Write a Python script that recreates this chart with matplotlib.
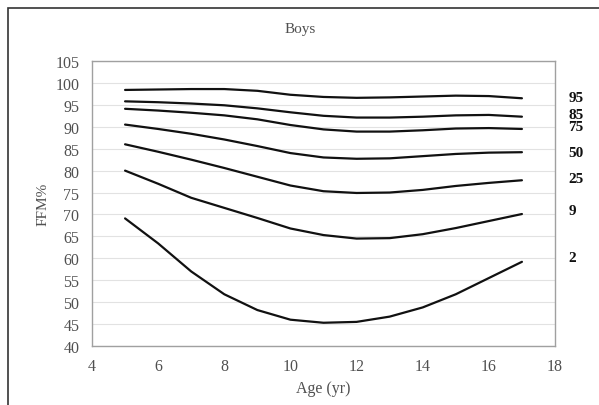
import matplotlib.pyplot as plt
from matplotlib.patches import Rectangle

plt.rcParams['font.family'] = ['Liberation Serif', 'DejaVu Serif']

# ages and percentile curves (FFM%)
ages = [5, 6, 7, 8, 9, 10, 11, 12, 13, 14, 15, 16, 17]
p95 = [98.4, 98.5, 98.6, 98.6, 98.2, 97.3, 96.8, 96.6, 96.7, 96.9, 97.1, 97.0, 96.5]
p85 = [95.8, 95.6, 95.3, 94.9, 94.2, 93.3, 92.5, 92.1, 92.1, 92.3, 92.6, 92.7, 92.3]
p75 = [94.1, 93.7, 93.2, 92.6, 91.7, 90.4, 89.4, 88.9, 88.9, 89.2, 89.6, 89.7, 89.5]
p50 = [90.5, 89.5, 88.4, 87.1, 85.6, 84.0, 83.0, 82.7, 82.8, 83.3, 83.8, 84.1, 84.2]
p25 = [86.0, 84.3, 82.5, 80.6, 78.6, 76.6, 75.3, 74.9, 75.0, 75.6, 76.5, 77.2, 77.8]
p9 = [80.0, 77.0, 73.8, 71.5, 69.2, 66.8, 65.3, 64.5, 64.6, 65.5, 66.9, 68.5, 70.1]
p2 = [69.1, 63.4, 57.0, 51.8, 48.2, 46.0, 45.3, 45.5, 46.7, 48.8, 51.8, 55.5, 59.2]

curves = [p95, p85, p75, p50, p25, p9, p2]
labels = ["95", "85", "75", "50", "25", "9", "2"]
label_y = [96.6, 92.9, 90.0, 84.2, 78.3, 71.0, 60.1]

fig = plt.figure(figsize=(5.99, 4.06), dpi=100)
W, H = 599, 406
ax = fig.add_axes([92 / W, 1 - 347 / H, (555 - 92) / W, (347 - 62) / H])

for c in curves:
    ax.plot(ages, c, color='#111111', lw=1.6, solid_capstyle='round')

for lab, y in zip(labels, label_y):
    ax.text(18.4, y, lab, fontsize=11, fontweight='bold', va='center',
            ha='left', color='#111111', clip_on=False)

ax.set_xlim(4, 18)
ax.set_ylim(40, 105)
ax.set_xticks(range(4, 19, 2))
ax.set_yticks(range(40, 106, 5))
ax.grid(axis='y', color='#e2e2e2', lw=0.8)
ax.set_axisbelow(True)
ax.tick_params(length=0, labelsize=11.5, labelcolor='#505050')
ax.tick_params(axis='y', pad=9)
ax.tick_params(axis='x', pad=9)
for s in ax.spines.values():
    s.set_color('#a0a0a0')
    s.set_linewidth(1.0)

ax.set_xlabel("Age (yr)", fontsize=11.5, color='#505050', labelpad=4)
ax.set_ylabel("FFM%", fontsize=11, color='#505050', labelpad=4)
fig.text(300 / W, 1 - 30 / H, "Boys", fontsize=11, color='#505050',
         ha='center', va='center')

# outer border of the chart
fig.patches.append(Rectangle((8 / W, -0.05), 1.0, 1 - 9 / H + 0.05,
                             transform=fig.transFigure, fill=False,
                             edgecolor='#333333', lw=1.2))

fig.savefig("out.png", dpi=100)
